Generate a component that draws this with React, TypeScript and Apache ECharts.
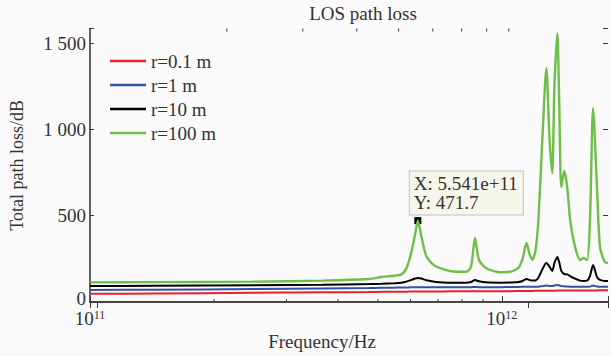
import React, { useEffect, useRef } from "react";
import * as echarts from "echarts";

// Frequencies (Hz), sampled along the curves (as plotted against the top frame axis)
const freq = [
  9.65e10, 1.35e11, 2.30e11, 3.33e11, 4.265e11, 4.568e11, 4.894e11, 5.078e11, 5.214e11, 5.354e11,
  5.469e11, 5.541e11, 5.646e11, 5.798e11, 6.049e11, 6.616e11, 7.166e11, 7.358e11, 7.515e11, 7.676e11,
  7.965e11, 8.622e11, 9.141e11, 9.485e11, 9.687e11, 9.895e11, 1.005e12, 1.021e12, 1.038e12, 1.054e12,
  1.077e12, 1.100e12, 1.118e12, 1.135e12, 1.148e12, 1.166e12, 1.178e12, 1.191e12, 1.210e12, 1.229e12,
  1.249e12, 1.282e12, 1.317e12, 1.338e12, 1.367e12, 1.388e12, 1.411e12, 1.441e12, 1.464e12, 1.503e12,
  1.528e12,
];

const lossR01 = [
  48, 49, 53, 56, 58, 59, 60, 60, 60, 61,
  61, 61, 61, 61, 61, 62, 62, 62, 62, 62,
  63, 63, 63, 64, 64, 64, 64, 64, 65, 65,
  65, 65, 65, 65, 65, 66, 66, 66, 66, 66,
  66, 67, 67, 67, 67, 67, 67, 67, 68, 68,
  68,
];

const lossR1 = [
  70, 71, 75, 78, 81, 82, 83, 84, 84, 85,
  85, 86, 85, 85, 85, 85, 85, 86, 87, 86,
  86, 86, 87, 87, 88, 89, 88, 88, 88, 89,
  92, 95, 93, 92, 96, 99, 96, 92, 91, 90,
  89, 88, 88, 88, 88, 89, 95, 90, 89, 89,
  89,
];

const lossR10 = [
  92, 94, 97, 100, 104, 106, 109, 112, 118, 128,
  136, 139, 136, 126, 118, 112, 112, 116, 127, 120,
  114, 112, 113, 116, 122, 133, 128, 124, 125, 140,
  190, 226, 205, 180, 225, 261, 230, 180, 162, 160,
  150, 135, 124, 122, 124, 150, 214, 145, 128, 122,
  122,
];

const lossR100 = [
  114, 115, 118, 124, 133, 145, 152, 160, 195, 290,
  400, 471.7, 380, 265, 212, 178, 175, 205, 371, 245,
  197, 172, 178, 200, 250, 342, 280, 245, 300, 475,
  955, 1355, 955, 747, 1245, 1557, 1152, 666, 759, 666,
  475, 319, 243, 255, 243, 475, 1123, 666, 319, 232,
  226,
];

const seriesNames = ["r=0.1 m", "r=1 m", "r=10 m", "r=100 m"];
const seriesColors = ["#e5232a", "#3450a8", "#000000", "#6dbf48"];

const yTicks = [0, 500, 1000, 1500];
const minorTicks = [2e11, 3e11, 4e11, 5e11, 6e11, 7e11, 8e11, 9e11];

const tipX = 5.541e11;
const tipY = 471.7;
const tipLines = ["X: 5.541e+11", "Y: 471.7"];

const titleText = "LOS path loss";
const xName = "Frequency/Hz";
const yName = "Total path loss/dB";

const SERIF = "'Liberation Serif', 'DejaVu Serif', serif";
const TXT = "#333";
const AX = "#3a3a3a";

const Y_MAX = 1585;

function fmtY(v: number): string {
  if (!yTicks.includes(v)) return "";
  if (v === 0) return "{z|0}";
  if (v >= 1000) {
    const th = Math.floor(v / 1000);
    const rest = String(v % 1000).padStart(3, "0");
    return th + " " + rest;
  }
  return String(v);
}

function fmtX(v: number): string {
  const e = Math.log10(v);
  const r = Math.round(e);
  if (Math.abs(e - r) > 1e-6) return "";
  return "{b|10}{s|" + r + "}";
}

export default function App() {
  const ref = useRef<HTMLDivElement>(null);

  useEffect(() => {
    if (!ref.current) return;
    const chart = echarts.init(ref.current, undefined, { renderer: "svg" });

    const lineSeries = [lossR01, lossR1, lossR10, lossR100].map((arr, i) => ({
      name: seriesNames[i],
      type: "line",
      xAxisIndex: 1,
      yAxisIndex: 0,
      data: freq.map((f, k) => [f, arr[k]]),
      showSymbol: false,
      symbol: "none",
      smooth: 0.25,
      lineStyle: { color: seriesColors[i], width: i === 3 ? 2.4 : 2 },
      itemStyle: { color: seriesColors[i] },
      z: 3 + i,
      markPoint:
        i === 3
          ? {
              symbol: "rect",
              symbolSize: 7,
              itemStyle: { color: "#000" },
              data: [{ coord: [tipX, tipY], value: tipY }],
              label: {
                show: true,
                formatter: tipLines.join("\n"),
                position: [-4.5, -45.5],
                backgroundColor: "#f6f6ea",
                borderColor: "#c4c4c4",
                borderWidth: 1,
                padding: [2, 5, 3, 4],
                fontFamily: SERIF,
                fontSize: 19,
                lineHeight: 19,
                color: TXT,
                align: "left",
                verticalAlign: "top",
              },
            }
          : undefined,
    }));

    const tickSeriesBottom = {
      type: "custom",
      xAxisIndex: 0,
      yAxisIndex: 0,
      silent: true,
      clip: false,
      data: minorTicks.map((v) => [v, 0]),
      renderItem: (_p: any, api: any) => {
        const pt = api.coord([api.value(0), 0]);
        return {
          type: "line",
          shape: { x1: pt[0], y1: pt[1], x2: pt[0], y2: pt[1] - 3 },
          style: { stroke: AX, lineWidth: 1 },
        };
      },
      z: 10,
    };

    const tickSeriesTop = {
      type: "custom",
      xAxisIndex: 1,
      yAxisIndex: 0,
      silent: true,
      clip: false,
      data: minorTicks.map((v) => [v, Y_MAX]),
      renderItem: (_p: any, api: any) => {
        const pt = api.coord([api.value(0), Y_MAX]);
        return {
          type: "line",
          shape: { x1: pt[0], y1: pt[1], x2: pt[0], y2: pt[1] + 3 },
          style: { stroke: AX, lineWidth: 1 },
        };
      },
      z: 10,
    };

    chart.setOption({
      animation: false,
      backgroundColor: "#fafafa",
      grid: { left: 89, right: 0, top: 28.5, bottom: 54, containLabel: false },
      legend: {
        orient: "vertical",
        left: 110,
        top: 51,
        padding: 0,
        itemWidth: 36,
        itemHeight: 2.5,
        itemGap: 4,
        icon: "rect",
        data: seriesNames,
        textStyle: { fontFamily: SERIF, fontSize: 19, color: TXT, lineHeight: 20 },
        selectedMode: false,
      },
      xAxis: [
        {
          type: "log",
          logBase: 10,
          min: 1e11,
          max: 1.81e12,
          position: "bottom",
          axisLine: { show: true, lineStyle: { color: AX, width: 1.6 } },
          axisTick: { show: true, inside: true, length: 6, lineStyle: { color: AX, width: 1 } },
          axisLabel: {
            show: true,
            margin: 7,
            formatter: fmtX,
            color: TXT,
            rich: {
              b: { fontFamily: SERIF, fontSize: 19, color: TXT, lineHeight: 19 },
              s: { fontFamily: SERIF, fontSize: 12, color: TXT, verticalAlign: "top", lineHeight: 12 },
            },
          },
          splitLine: { show: false },
        },
        {
          type: "log",
          logBase: 10,
          min: 9.64e10,
          max: 1.528e12,
          position: "top",
          axisLine: { show: true, lineStyle: { color: AX, width: 1.6 } },
          axisTick: { show: true, inside: true, length: 6, lineStyle: { color: AX, width: 1 } },
          axisLabel: { show: false },
          splitLine: { show: false },
        },
      ],
      yAxis: [
        {
          type: "value",
          min: 0,
          max: Y_MAX,
          interval: 500,
          position: "left",
          name: yName,
          nameLocation: "middle",
          nameGap: 64,
          nameRotate: 90,
          nameTextStyle: { fontFamily: SERIF, fontSize: 18, color: TXT },
          axisLine: { show: true, lineStyle: { color: AX, width: 1.6 } },
          axisTick: { show: true, inside: true, length: 4, lineStyle: { color: AX, width: 1 } },
          axisLabel: {
            formatter: fmtY,
            fontFamily: SERIF,
            fontSize: 19,
            color: TXT,
            margin: 4,
            rich: {
              z: { fontFamily: SERIF, fontSize: 19, color: TXT, padding: [0, 0, 7, 0] },
            },
          },
          splitLine: { show: false },
        },
        {
          type: "value",
          min: 0,
          max: Y_MAX,
          interval: 500,
          position: "right",
          axisLine: { show: false },
          axisTick: { show: true, inside: true, length: 5, lineStyle: { color: AX, width: 1 } },
          axisLabel: { show: false },
          splitLine: { show: false },
        },
      ],
      graphic: [
        {
          type: "text",
          x: 363,
          y: 13,
          style: {
            text: titleText,
            fontFamily: SERIF,
            fontSize: 19,
            fill: TXT,
            textAlign: "center",
            textVerticalAlign: "middle",
          },
        },
        {
          type: "text",
          x: 322,
          y: 341,
          style: {
            text: xName,
            fontFamily: SERIF,
            fontSize: 19,
            fill: TXT,
            textAlign: "center",
            textVerticalAlign: "middle",
          },
        },
      ],
      series: [...lineSeries, tickSeriesBottom, tickSeriesTop],
    });

    return () => chart.dispose();
  }, []);

  return (
    <div
      ref={ref}
      style={{ position: "fixed", left: 0, top: 0, width: 611, height: 356 }}
    />
  );
}
